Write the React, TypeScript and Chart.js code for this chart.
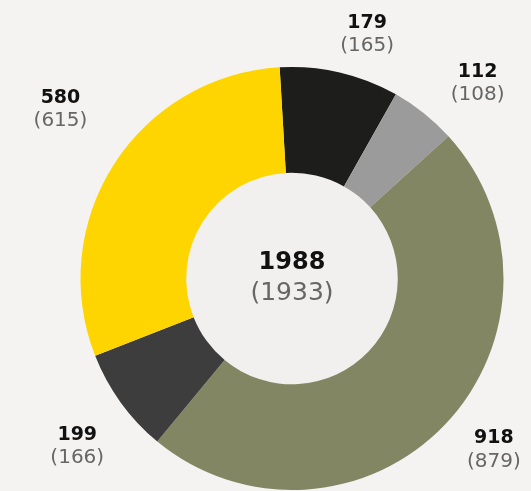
import React, { useEffect, useRef } from "react";
import { Chart, registerables } from "chart.js";

Chart.register(...registerables);

// Segment names (not displayed)
const categories = ["Black", "Light grey", "Olive", "Dark grey", "Yellow"];
// Value labels shown next to each segment (current and previous)
const currentValues = [179, 112, 918, 199, 580];
const previousValues = [165, 108, 879, 166, 615];
// Arc sizes as drawn in the picture
const arcValues = [181, 101, 949, 160, 597];
const segmentColors = ["#1d1d1b", "#9b9b9b", "#838662", "#3d3d3d", "#ffd500"];
const totalCurrent = currentValues.reduce((a, b) => a + b, 0);
const totalPrevious = previousValues.reduce((a, b) => a + b, 0);

// Label placement tweaks (pixels) relative to the mid-angle anchor of each arc
const labelNudge: [number, number][] = [
  [15, 15.5],
  [19.5, 13],
  [9, -12.5],
  [1, 11.5],
  [-7, -25.5],
];

const FONT = '"DejaVu Sans", sans-serif';

const ringPlugin = {
  id: "ringLabels",
  beforeDatasetsDraw(chart: any) {
    const meta = chart.getDatasetMeta(0);
    const arc = meta.data[0];
    if (!arc) return;
    const { x, y, innerRadius } = arc.getProps(["x", "y", "innerRadius"], true);
    const ctx = chart.ctx;
    ctx.save();
    ctx.beginPath();
    ctx.arc(x, y, innerRadius, 0, Math.PI * 2);
    ctx.fillStyle = "#f1f0ee";
    ctx.fill();
    ctx.restore();
  },
  afterDraw(chart: any) {
    const meta = chart.getDatasetMeta(0);
    const ctx = chart.ctx;
    ctx.save();
    ctx.textAlign = "center";
    ctx.textBaseline = "middle";
    let cx0 = 0;
    let cy0 = 0;
    meta.data.forEach((arc: any, i: number) => {
      const { x, y, startAngle, endAngle, outerRadius } = arc.getProps(
        ["x", "y", "startAngle", "endAngle", "outerRadius"],
        true
      );
      cx0 = x;
      cy0 = y;
      const mid = (startAngle + endAngle) / 2;
      const d = outerRadius + 55;
      const lx = x + Math.cos(mid) * d + labelNudge[i][0];
      const ly = y + Math.sin(mid) * d + labelNudge[i][1];
      ctx.font = `bold 19px ${FONT}`;
      ctx.fillStyle = "#111111";
      ctx.fillText(String(currentValues[i]), lx, ly - 11.5);
      ctx.font = `20px ${FONT}`;
      ctx.fillStyle = "#666666";
      ctx.fillText(`(${previousValues[i]})`, lx, ly + 11.5);
    });
    ctx.font = `bold 24px ${FONT}`;
    ctx.fillStyle = "#111111";
    ctx.fillText(String(totalCurrent), cx0, cy0 - 15.5);
    ctx.font = `25px ${FONT}`;
    ctx.fillStyle = "#666666";
    ctx.fillText(`(${totalPrevious})`, cx0, cy0 + 15);
    ctx.restore();
  },
};

export default function App() {
  const canvasRef = useRef<HTMLCanvasElement | null>(null);

  useEffect(() => {
    document.body.style.margin = "0";
    document.body.style.background = "#f4f3f1";
    const canvas = canvasRef.current;
    if (!canvas) return;
    const chart = new Chart(canvas, {
      type: "doughnut",
      data: {
        labels: categories,
        datasets: [
          {
            data: arcValues,
            backgroundColor: segmentColors,
            borderWidth: 0,
            hoverOffset: 0,
            offset: 0,
          },
        ],
      },
      options: {
        animation: false,
        responsive: true,
        maintainAspectRatio: false,
        cutout: "50%",
        rotation: -3.35,
        layout: { padding: { left: 80, right: 27, top: 67, bottom: 1 } },
        plugins: {
          legend: { display: false },
          tooltip: { enabled: false },
        },
      },
      plugins: [ringPlugin],
    });
    return () => chart.destroy();
  }, []);

  return (
    <div
      style={{
        position: "fixed",
        left: 0,
        top: 0,
        width: 531,
        height: 491,
        background: "#f4f3f1",
      }}
    >
      <canvas ref={canvasRef} />
    </div>
  );
}
